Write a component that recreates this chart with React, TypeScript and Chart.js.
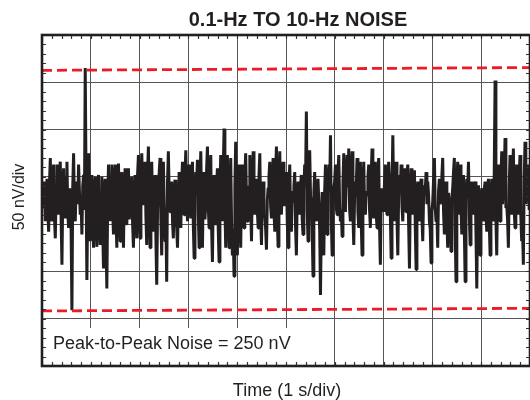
import React, { useEffect, useRef } from "react";
import { Chart, registerables } from "chart.js";

Chart.register(...registerables);

// Axis ranges: 10 s across (1 s/div), 7 divisions of 50 nV
const TIME_MIN = 0;
const TIME_MAX = 10;
const NV_MIN = -175;
const NV_MAX = 175;
const NV_PER_DIV = 50;
const S_PER_DIV = 1;

// Noise trace (nV) in consecutive slices
const NOISE_SLICE_A = [-1, 12, -8, 20, -22, 5, 23, -12, -33, 18, 45, -6, -22, 26, 38, -18, -40, 10, 38, 2, -15, 30, 41, -20, -68, 8, 34, -5, -19, 24, 41, -10, -29, 6, 13, -30, -116, 15, 50, -8, -22, 12, 20, -4, 38, 10, -15, -2, -36, 15, 27, -10, 140, 20, -84, -5, 50, 14, -43, 3, 27, -20, -50, 10, 25, -15, -49, 18, 27, -25, -47, 6, 25, -30, -72, 12, 23, -40, -93, -1];
const NOISE_SLICE_B = [38, 5, -22, 14, 38, -10, -36, 20, 38, -15, -50, 8, 39, -5, -43, 22, 30, -20, -50, 12, 34, 0, -26, 18, 34, -20, -8, 10, 25, -25, -50, 5, 27, -12, -40, 28, 48, -10, -40, 20, 50, 15, -5, 25, 41, -18, -47, 30, 57, -8, -50, 16, 41, -14, -33, 10, 27, -40, -89, -10, 16, 30, 45, -20, -58, 12, 41, -5, -43, -20, -86, 20, 52, 6, -12, 10, 20, -22, -40, 8, 22, -10, -29];
const NOISE_SLICE_C = [-50, -5, 30, 8, -29, 20, 41, -12, -15, 26, 53, 4, -22, 15, 38, -8, -19, 22, 41, -25, -61, 6, 30, 18, 43, -14, -50, 20, 52, -10, -50, 12, 30, -20, -5, 32, 57, -6, -29, 14, 48, -28, -65, 5, 27, -12, -26, 16, 34, -30, -65, 10, 48, 2, -22, 30, 76, -8, -50, 20, 48, -15, -50, 10, 45, -22, -58, -30, -80, 15, 62, -20, -58, 8, 38, -16, -50, 14, 38, -6, -29, 24, 50, 0, -22];
const NOISE_SLICE_D = [-22, 15, 48, -8, -43, 20, 52, 2, -15, 12, 23, -10, -29, 26, 50, -14, -47, 6, 20, -18, -15, -30, -52, 0, 13, 25, 41, -6, -19, 22, 45, -10, -33, 28, 57, -16, -49, 14, 52, -4, -15, 18, 41, -6, 13, 8, 30, -22, -50, 12, 38, -15, -33, 10, -1, 15, 30, -28, -58, 4, 20, -8, -15, 16, 27, -20, -36, 12, 38, 20, 94, -10, -43, 18, 53, 5, -1, -30, -80, 8, 30, -10, -22, 6, 23];
const NOISE_SLICE_E = [23, -30, -100, -20, 9, -18, -58, 10, 38, -6, -36, 22, 38, 10, 69, -20, -58, -4, 13, 20, 38, -8, -15, 28, 48, -5, -22, -10, -38, 18, 50, 6, -12, 24, 48, 14, 55, -10, -22, 30, 52, -15, -47, 4, 20, 16, 45, -12, -29, 20, 41, -24, -58, 12, 41, -5, -15, 10, 6, 24, 38, -10, -29, 28, 55, -8, -19, 20, 41, -14, -29, 22, 45, -26, -68, 2, 13, -6, -12, 20, 38, -4, -15, 22, 41];
const NOISE_SLICE_F = [20, -15, -61, 10, 69, 5, -22, 18, 41, -20, -58, 6, 27, 12, 38, -6, -22, 20, 34, -2, -12, 26, 38, -25, -72, 4, 34, -8, -15, 22, 32, -28, -73, 0, 20, -10, -22, 14, 23, -18, -43, 5, 16, 10, 30, -4, 20, 6, -22, -30, -66, -12, -1, 22, 45, -8, -22, -14, -50, 10, 23, -4, 6, 26, 45, -12, -36, 15, 20, -20, -50, 8, -5, -20, -54, 2, 13, 30, 45, -30, -86, 10, 41, -2, -15];
const NOISE_SLICE_G = [38, -8, -36, 10, 27, -30, -86, 2, 23, 12, 41, -15, -47, 6, 20, -8, -15, 14, 20, -35, -93, -5, 16, -20, -58, 0, 13, -6, -22, 12, 20, -14, -33, 10, 23, -22, -58, 4, 23, -10, -22, 30, 127, -20, -58, 10, 38, -6, -22, 20, 52, -4, 13, 25, 66, -8, -5, -20, -50, 14, 48, 2, -15, 22, 55, -10, -29, 18, 38, -6, -15, 24, 48, -18, -43, -30, -68, 20, 62, -4, 13, 8, 38, -10, -5];

// Peak-to-peak limit lines (nV) at start and end of the record
const UPPER_LIMIT = [137.6, 140.6];
const LOWER_LIMIT = [-116.8, -114.0];

const TITLE = "0.1-Hz TO 10-Hz NOISE";
const Y_LABEL = "50 nV/div";
const X_LABEL = "Time (1 s/div)";
const NOTE = "Peak-to-Peak Noise = 250 nV";

const INK = "#231f20";
const RED = "#ed1c24";
const GRID = "#555555";
const FONT = '"Liberation Sans", Arial, Helvetica, sans-serif';

const overlay = {
  id: "overlay",
  afterDatasetsDraw(chart: any) {
    const { ctx, chartArea: a, scales } = chart;
    const xs = scales.x;
    const ys = scales.y;
    ctx.save();
    // white backing box for the annotation
    ctx.fillStyle = "#ffffff";
    ctx.fillRect(a.left + 1, a.bottom - 38, 262, 37);

    // minor ticks, pointing inward
    ctx.strokeStyle = "#333333";
    ctx.lineWidth = 1.2;
    const tl = 4;
    ctx.beginPath();
    for (let t = TIME_MIN; t <= TIME_MAX + 1e-9; t += S_PER_DIV / 5) {
      const px = Math.round(xs.getPixelForValue(t)) + 0.5;
      ctx.moveTo(px, a.top);
      ctx.lineTo(px, a.top + tl);
      ctx.moveTo(px, a.bottom);
      ctx.lineTo(px, a.bottom - tl);
    }
    for (let v = NV_MIN; v <= NV_MAX + 1e-9; v += NV_PER_DIV / 5) {
      const py = Math.round(ys.getPixelForValue(v)) + 0.5;
      ctx.moveTo(a.left, py);
      ctx.lineTo(a.left + tl, py);
      ctx.moveTo(a.right, py);
      ctx.lineTo(a.right - tl, py);
    }
    ctx.stroke();

    // frame
    ctx.strokeStyle = INK;
    ctx.lineWidth = 2.6;
    ctx.strokeRect(a.left, a.top, a.right - a.left, a.bottom - a.top);

    // texts
    ctx.fillStyle = INK;
    ctx.font = `bold 20px ${FONT}`;
    ctx.textAlign = "center";
    ctx.textBaseline = "alphabetic";
    ctx.fillText(TITLE, 298, 26);

    ctx.font = `18px ${FONT}`;
    ctx.fillText(X_LABEL, 287, 396);

    ctx.textAlign = "left";
    ctx.fillText(NOTE, a.left + 11, a.bottom - 17);

    ctx.save();
    ctx.font = `16px ${FONT}`;
    ctx.translate(24, 197);
    ctx.rotate(-Math.PI / 2);
    ctx.textAlign = "center";
    ctx.fillText(Y_LABEL, 0, 0);
    ctx.restore();

    ctx.restore();
  },
};

export default function App() {
  const ref = useRef<HTMLCanvasElement | null>(null);

  useEffect(() => {
    document.body.style.margin = "0";
    const noise = [
      ...NOISE_SLICE_A,
      ...NOISE_SLICE_B,
      ...NOISE_SLICE_C,
      ...NOISE_SLICE_D,
      ...NOISE_SLICE_E,
      ...NOISE_SLICE_F,
      ...NOISE_SLICE_G,
    ];
    const n = noise.length;
    const noiseData = noise.map((v, i) => ({ x: TIME_MIN + (i * (TIME_MAX - TIME_MIN)) / (n - 1), y: v }));
    const upperData = [
      { x: TIME_MIN, y: UPPER_LIMIT[0] },
      { x: TIME_MAX, y: UPPER_LIMIT[1] },
    ];
    const lowerData = [
      { x: TIME_MIN, y: LOWER_LIMIT[0] },
      { x: TIME_MAX, y: LOWER_LIMIT[1] },
    ];

    const chart = new Chart(ref.current as HTMLCanvasElement, {
      type: "line",
      data: {
        datasets: [
          {
            data: noiseData,
            borderColor: INK,
            borderWidth: 3,
            pointRadius: 0,
            tension: 0,
            borderJoinStyle: "bevel",
            order: 2,
          },
          {
            data: upperData,
            borderColor: RED,
            borderWidth: 2.8,
            borderDash: [10, 5],
            pointRadius: 0,
            order: 1,
          },
          {
            data: lowerData,
            borderColor: RED,
            borderWidth: 2.8,
            borderDash: [10, 5],
            pointRadius: 0,
            order: 1,
          },
        ],
      },
      options: {
        responsive: false,
        animation: false,
        devicePixelRatio: 1,
        layout: { padding: { left: 42, top: 35, right: 0, bottom: 34 } },
        plugins: {
          legend: { display: false },
          tooltip: { enabled: false },
          title: { display: false },
        },
        scales: {
          x: {
            type: "linear",
            min: TIME_MIN,
            max: TIME_MAX,
            ticks: { display: false, stepSize: S_PER_DIV },
            grid: { color: GRID, lineWidth: 1, drawTicks: false },
            border: { display: false },
          },
          y: {
            type: "linear",
            min: NV_MIN,
            max: NV_MAX,
            ticks: { display: false, stepSize: NV_PER_DIV },
            grid: { color: GRID, lineWidth: 1, drawTicks: false },
            border: { display: false },
          },
        },
      },
      plugins: [overlay],
    });
    return () => chart.destroy();
  }, []);

  return (
    <div style={{ position: "fixed", left: 0, top: 0, width: 530, height: 400, background: "#fff" }}>
      <canvas ref={ref} width={530} height={400} />
    </div>
  );
}
